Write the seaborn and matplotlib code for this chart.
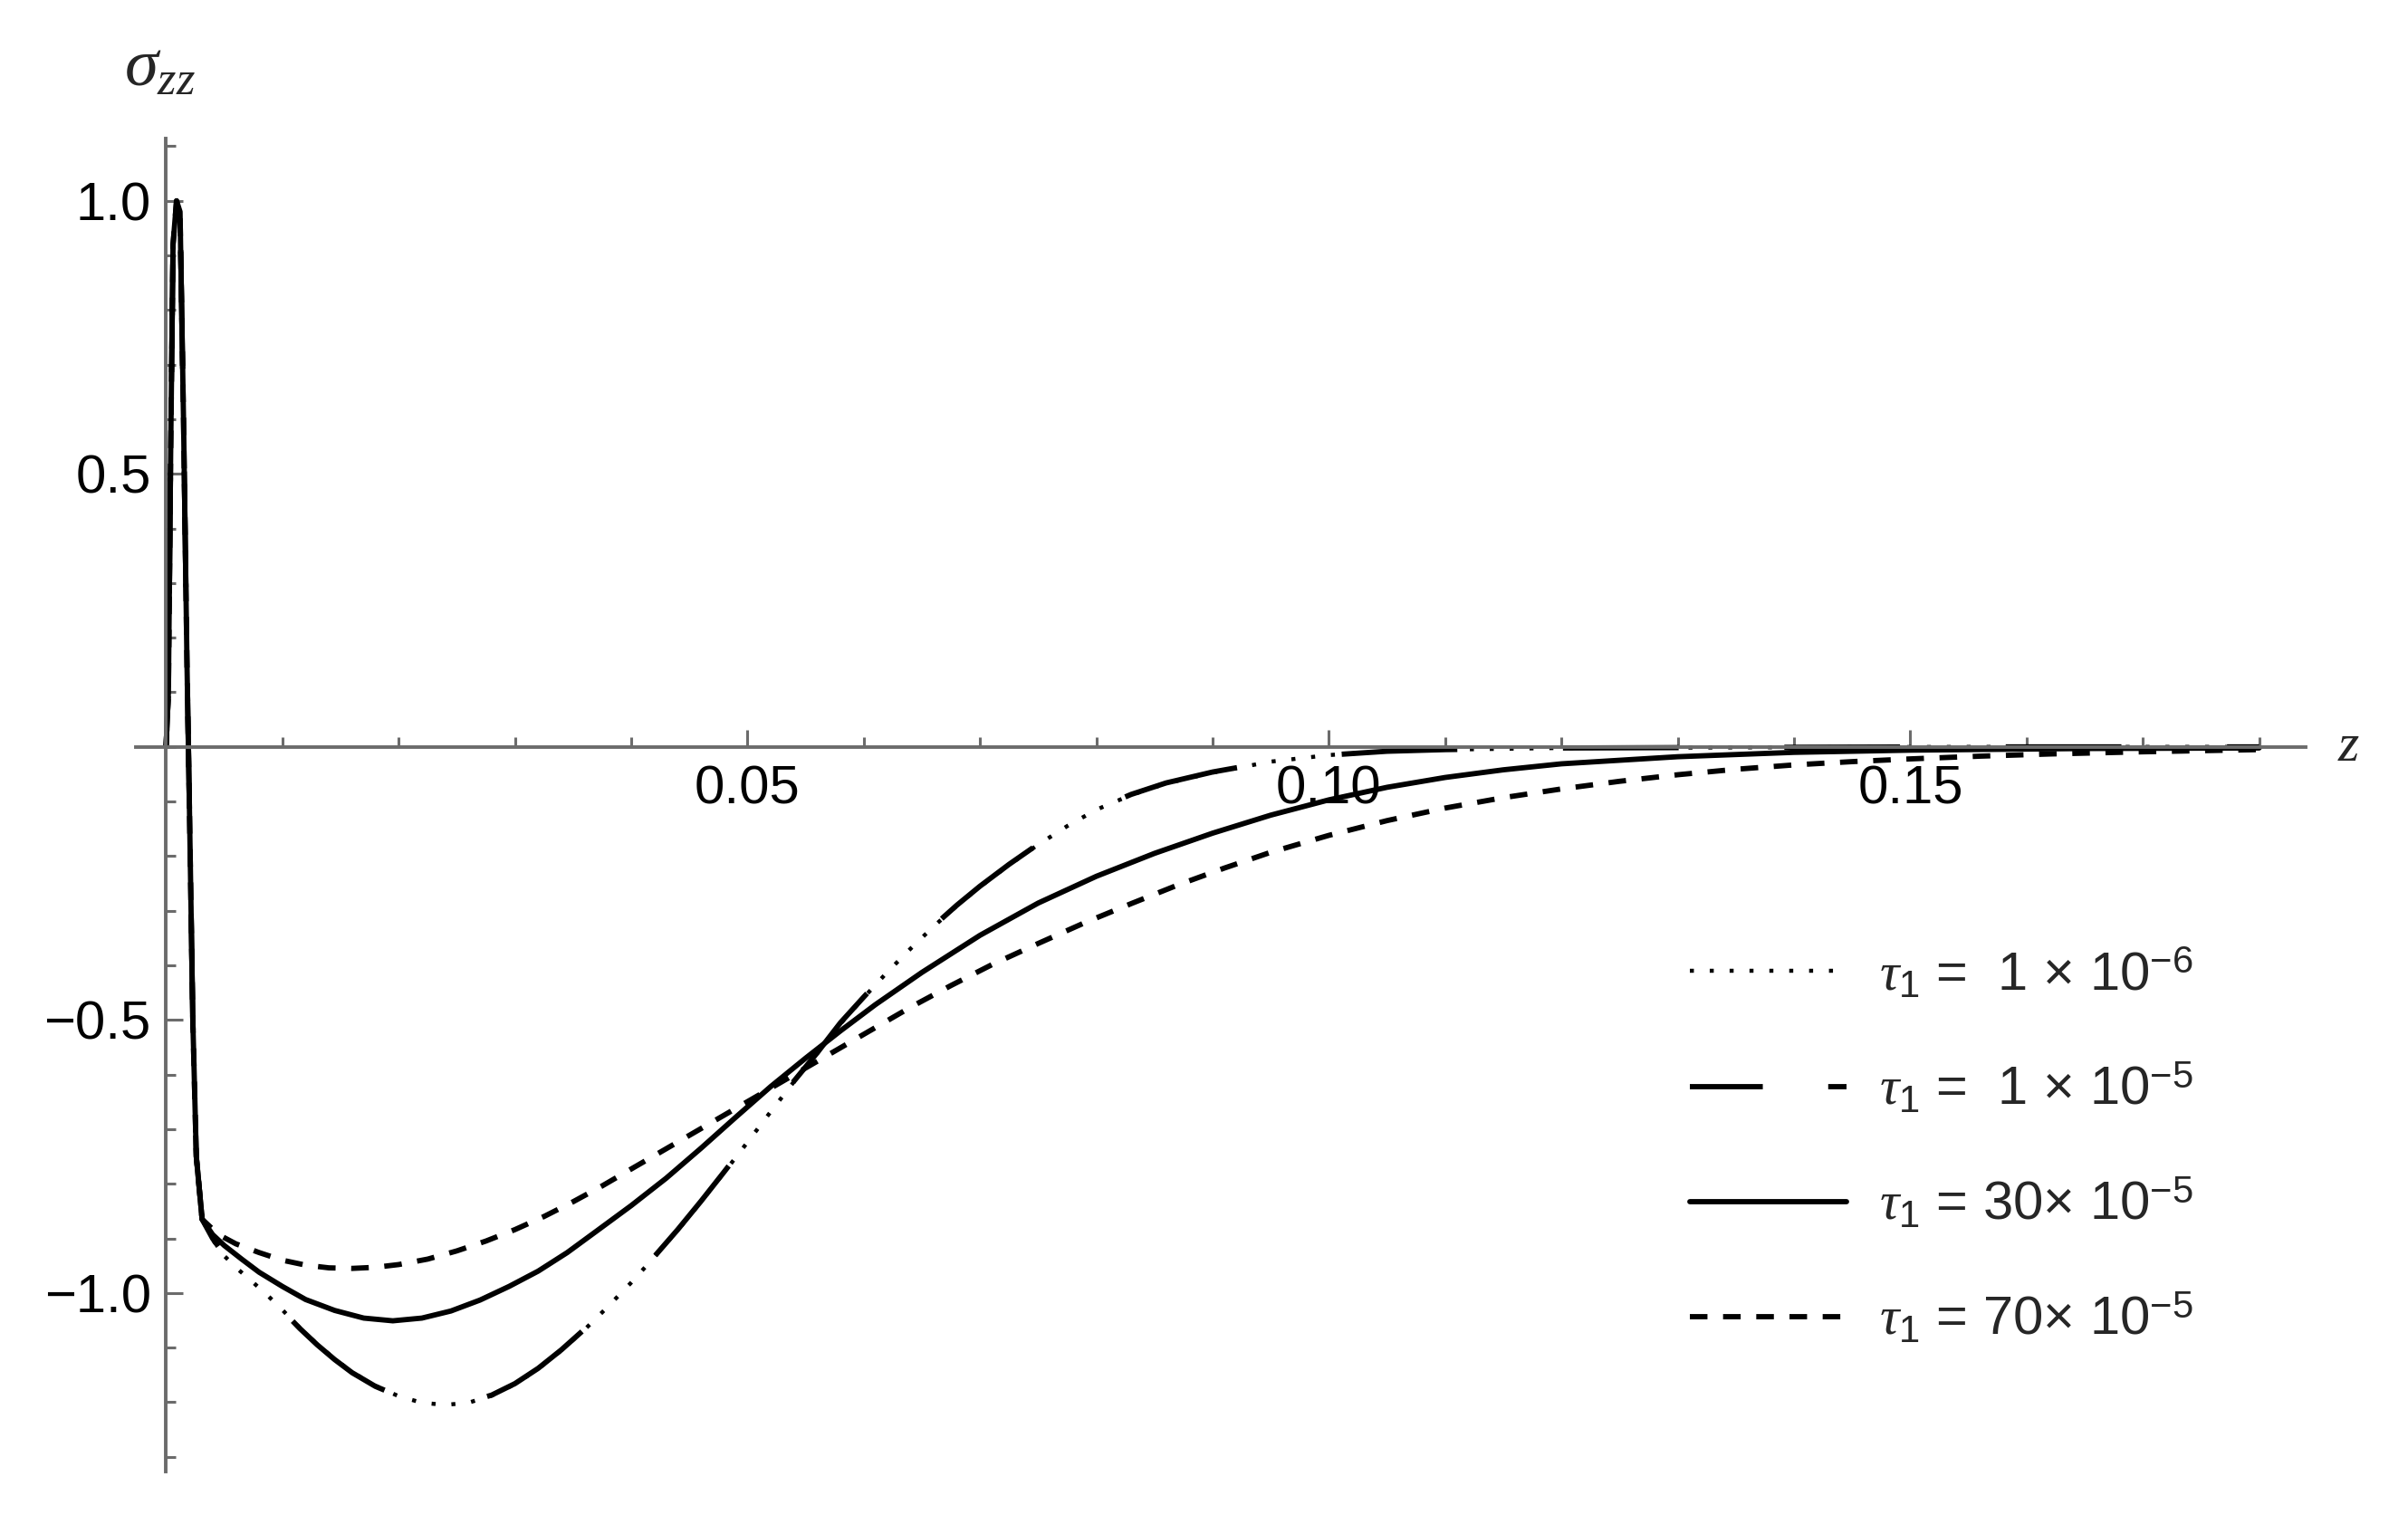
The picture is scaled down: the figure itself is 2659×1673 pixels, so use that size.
import numpy as np
import pandas as pd
import matplotlib
matplotlib.use("Agg")
import matplotlib.pyplot as plt
from matplotlib.lines import Line2D
from matplotlib.ticker import FixedLocator, FixedFormatter, MultipleLocator
import seaborn as sns

# shared spike near z = 0 (all four curves coincide here)
spike_z = [0.0, 0.0002, 0.0004, 0.0006, 0.0009, 0.0012, 0.0015, 0.0018, 0.0020, 0.0023, 0.0026, 0.0031]
spike_s = [0.0, 0.10, 0.55, 0.92, 1.00, 0.98, 0.60, 0.15, -0.10, -0.50, -0.75, -0.865]

# tau1 = 1e-5 (long dash) and 1e-6 (dotted) almost coincide
z_b = [0.0040, 0.0050, 0.0062, 0.0075, 0.0088, 0.0100, 0.0115, 0.0130, 0.0145, 0.0160, 0.0180,
       0.0200, 0.0220, 0.0240, 0.0260, 0.0280, 0.0300, 0.0320, 0.0340, 0.0360, 0.0380, 0.0400,
       0.0420, 0.0440, 0.0460, 0.0480, 0.0500, 0.0520, 0.0540, 0.0560, 0.0580, 0.0600, 0.0620,
       0.0640, 0.0660, 0.0680, 0.0700, 0.0725, 0.0750, 0.0775, 0.0800, 0.0830, 0.0860, 0.0900,
       0.0950, 0.1000, 0.1050, 0.1100, 0.1200, 0.1350, 0.1550, 0.1800]
s_b = [-0.900, -0.930, -0.955, -0.980, -1.006, -1.032, -1.065, -1.095, -1.122, -1.146, -1.171,
       -1.189, -1.200, -1.204, -1.200, -1.187, -1.166, -1.138, -1.104, -1.066, -1.024, -0.980,
       -0.933, -0.884, -0.832, -0.778, -0.723, -0.667, -0.612, -0.560, -0.505, -0.458, -0.412,
       -0.369, -0.328, -0.290, -0.255, -0.215, -0.178, -0.144, -0.114, -0.087, -0.066, -0.046,
       -0.027, -0.015, -0.008, -0.005, -0.002, -0.001, 0.0, 0.0]
z_a = z_b
s_a = [-0.902, -0.932, -0.957, -0.981, -1.006, -1.031, -1.064, -1.094, -1.121, -1.145, -1.170,
       -1.189, -1.201, -1.205, -1.201, -1.188, -1.167, -1.139, -1.105, -1.067, -1.025, -0.981,
       -0.934, -0.885, -0.833, -0.779, -0.724, -0.668, -0.613, -0.561, -0.507, -0.459, -0.413,
       -0.370, -0.329, -0.291, -0.256, -0.216, -0.179, -0.145, -0.115, -0.088, -0.067, -0.047,
       -0.027, -0.015, -0.008, -0.005, -0.002, -0.001, 0.0, 0.0]

# tau1 = 30e-5 (solid)
z_c = [0.0040, 0.0050, 0.0065, 0.0080, 0.0100, 0.0120, 0.0145, 0.0170, 0.0195, 0.0220, 0.0245,
       0.0270, 0.0295, 0.0320, 0.0345, 0.0370, 0.0400, 0.0430, 0.0460, 0.0490, 0.0520, 0.0550,
       0.0580, 0.0610, 0.0650, 0.0700, 0.0750, 0.0800, 0.0850, 0.0900, 0.0950, 0.1000, 0.1050,
       0.1100, 0.1150, 0.1200, 0.1300, 0.1400, 0.1500, 0.1650, 0.1800]
s_c = [-0.893, -0.913, -0.938, -0.962, -0.988, -1.012, -1.032, -1.046, -1.051, -1.046, -1.033,
       -1.013, -0.988, -0.960, -0.926, -0.887, -0.840, -0.790, -0.735, -0.678, -0.622, -0.570,
       -0.520, -0.472, -0.413, -0.345, -0.286, -0.237, -0.195, -0.158, -0.125, -0.097, -0.074,
       -0.056, -0.042, -0.031, -0.018, -0.010, -0.006, -0.003, -0.002]

# tau1 = 70e-5 (short dash)
z_d = [0.0045, 0.0060, 0.0080, 0.0100, 0.0120, 0.0140, 0.0160, 0.0180, 0.0200, 0.0225, 0.0250,
       0.0275, 0.0300, 0.0325, 0.0350, 0.0375, 0.0400, 0.0430, 0.0460, 0.0490, 0.0520, 0.0550,
       0.0580, 0.0610, 0.0640, 0.0675, 0.0710, 0.0750, 0.0790, 0.0830, 0.0870, 0.0910, 0.0950,
       0.1000, 0.1050, 0.1100, 0.1150, 0.1200, 0.1250, 0.1300, 0.1350, 0.1400, 0.1450, 0.1500,
       0.1560, 0.1620, 0.1700, 0.1800]
s_d = [-0.893, -0.910, -0.926, -0.940, -0.949, -0.954, -0.955, -0.953, -0.948, -0.938, -0.923,
       -0.905, -0.884, -0.860, -0.833, -0.804, -0.773, -0.736, -0.699, -0.662, -0.625, -0.588,
       -0.551, -0.514, -0.477, -0.437, -0.399, -0.360, -0.322, -0.287, -0.253, -0.222, -0.193,
       -0.162, -0.135, -0.112, -0.093, -0.077, -0.063, -0.051, -0.041, -0.033, -0.027, -0.022,
       -0.017, -0.013, -0.009, -0.005]

labels = [r'$\tau_1$ =  1 × 10$^{-6}$',
          r'$\tau_1$ =  1 × 10$^{-5}$',
          r'$\tau_1$ = 30× 10$^{-5}$',
          r'$\tau_1$ = 70× 10$^{-5}$']

y_ticks = [-1.0, -0.5, 0.5, 1.0]
y_ticklabels = ['\u22121.0', '\u22120.5', '0.5', '1.0']
x_ticks = [0.05, 0.10, 0.15]
x_ticklabels = ['0.05', '0.10', '0.15']

sns.set_style('white')
plt.rcParams['font.family'] = ['Liberation Sans', 'DejaVu Sans']
plt.rcParams['mathtext.fontset'] = 'custom'
plt.rcParams['mathtext.rm'] = 'Liberation Sans'
plt.rcParams['mathtext.it'] = 'Liberation Serif:italic'
plt.rcParams['mathtext.bf'] = 'Liberation Sans:bold'
plt.rcParams['lines.scale_dashes'] = False

W, H, DPI = 2659, 1673, 200
fig = plt.figure(figsize=(W / DPI, H / DPI), dpi=DPI)
ax = fig.add_axes([150 / W, 48 / H, (2546 - 150) / W, (1625 - 153) / H])

dot_ls = (0, (1.6, 6.3))
longdash_ls = (27, (46, 42))
dash_ls = (0, (7, 6.2))
styles = [
    dict(z=z_a, s=s_a, lw=1.6, ls=dot_ls),
    dict(z=z_b, s=s_b, lw=2.1, ls=longdash_ls),
    dict(z=z_c, s=s_c, lw=2.1, ls='-'),
    dict(z=z_d, s=s_d, lw=2.1, ls=dash_ls),
]
for st in styles:
    df = pd.DataFrame({'z': spike_z + st['z'], 's': spike_s + st['s']})
    sns.lineplot(data=df, x='z', y='s', ax=ax, color='black', lw=st['lw'],
                 linestyle=st['ls'], sort=False, estimator=None)

ax.set_xlim(-0.0026, 0.1840)
ax.set_ylim(-1.327, 1.114)
ax.set_xlabel('')
ax.set_ylabel('')

axis_col = '#6b6b6b'
for side in ['top', 'right']:
    ax.spines[side].set_visible(False)
for side in ['left', 'bottom']:
    ax.spines[side].set_position(('data', 0))
    ax.spines[side].set_color(axis_col)
    ax.spines[side].set_linewidth(1.4)

ax.yaxis.set_major_locator(FixedLocator(y_ticks))
ax.yaxis.set_major_formatter(FixedFormatter(y_ticklabels))
ax.yaxis.set_minor_locator(MultipleLocator(0.1))
ax.xaxis.set_major_locator(FixedLocator(x_ticks))
ax.xaxis.set_major_formatter(FixedFormatter(x_ticklabels))
ax.xaxis.set_minor_locator(MultipleLocator(0.01))
ax.tick_params(which='both', direction='in', color=axis_col, width=1.1,
               bottom=True, left=True, top=False, right=False)
ax.tick_params(which='major', length=7, labelsize=21.5, labelcolor='black')
ax.tick_params(which='minor', length=4)
ax.tick_params(axis='y', which='major', pad=6)
ax.tick_params(axis='x', which='major', pad=7)

fig.text(177 / W, 1 - 95 / H, r'$\sigma_{zz}$', ha='center', va='baseline', fontsize=27)
fig.text(2594 / W, 1 - 825 / H, r'$z$', ha='center', va='center', fontsize=21.5)

handles = [
    Line2D([], [], color='black', lw=1.6, linestyle=dot_ls),
    Line2D([], [], color='black', lw=2.1, linestyle=(0, (29, 26))),
    Line2D([], [], color='black', lw=2.1, linestyle='-'),
    Line2D([], [], color='black', lw=2.1, linestyle=dash_ls),
]
ax.legend(handles, labels, loc='upper left', bbox_to_anchor=(1866 / W, 1 - 1045 / H),
          bbox_transform=fig.transFigure, frameon=False, fontsize=21.5, borderpad=0,
          borderaxespad=0, handlelength=2.9, handletextpad=0.6, labelspacing=1.12)

fig.savefig('out.png', dpi=DPI)
